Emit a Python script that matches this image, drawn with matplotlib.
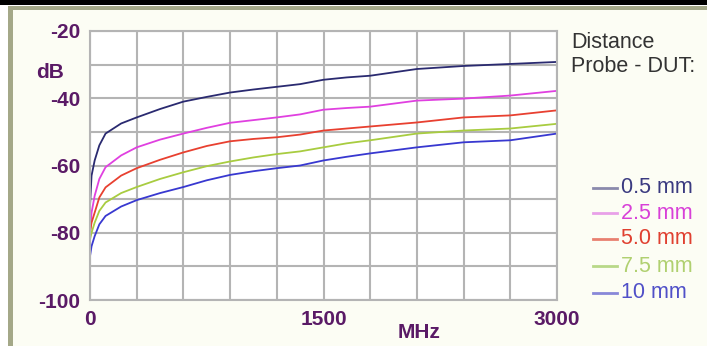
import matplotlib.pyplot as plt
from matplotlib.patches import Rectangle
import numpy as np

plt.rcParams['font.family'] = ['Liberation Sans', 'DejaVu Sans']

# frequency points (MHz) and measured coupling (dB)
freq = [0, 10, 30, 60, 100, 200, 300, 450, 600, 750, 900, 1050, 1200, 1350, 1500, 1650, 1800, 2100, 2400, 2700, 3000]
d05 = [-72, -63, -58.5, -54, -50.5, -47.5, -45.7, -43.2, -41, -39.6, -38.3, -37.4, -36.6, -35.8, -34.5, -33.8, -33.3, -31.3, -30.4, -29.8, -29.2]
d25 = [-80, -74, -69, -64, -60.5, -57, -54.6, -52.3, -50.5, -48.8, -47.3, -46.5, -45.7, -44.8, -43.4, -42.9, -42.5, -40.7, -40.1, -39.2, -37.8]
d50 = [-80, -77, -74, -69.5, -66.5, -63, -60.8, -58.3, -56.1, -54.2, -52.8, -52.1, -51.6, -50.8, -49.6, -49.0, -48.4, -47.2, -45.7, -45.1, -43.6]
d75 = [-82, -80, -77, -73.5, -71, -68.2, -66.4, -64, -62, -60.2, -58.8, -57.6, -56.6, -55.8, -54.6, -53.4, -52.5, -50.5, -49.6, -49, -47.6]
d10 = [-87, -84, -81, -77.5, -75, -72.2, -70.3, -68.2, -66.4, -64.4, -62.8, -61.7, -60.8, -60.0, -58.5, -57.4, -56.4, -54.6, -53.1, -52.5, -50.5]

labels = ['0.5 mm', '2.5 mm', '5.0 mm', '7.5 mm', '10 mm']
line_colors = ['#2a2a70', '#e040e0', '#e84030', '#a8cc40', '#3838d0']
key_colors = ['#8a8aac', '#e8a0e8', '#e88070', '#b8d888', '#8888d8']
text_colors = ['#3a3a80', '#d840d8', '#e04030', '#b0d070', '#5050c8']

W, H = 707, 346
fig = plt.figure(figsize=(W / 100, H / 100), dpi=100)
fig.patch.set_facecolor('white')

def px(x, y):
    return x / W, 1 - y / H

# frame: black strip on top, olive border, cream panel
fig.patches.append(Rectangle(px(8, 346), 699 / W, 340 / H, transform=fig.transFigure,
                             facecolor='#a4a888', edgecolor='none', zorder=-3))
fig.patches.append(Rectangle(px(13, 346), 694 / W, 336 / H, transform=fig.transFigure,
                             facecolor='#fcfdf4', edgecolor='none', zorder=-2))
fig.patches.append(Rectangle(px(0, 5), 1, 5 / H, transform=fig.transFigure,
                             facecolor='black', edgecolor='none', zorder=-1))

ax = fig.add_axes([90 / W, 46 / H, 467 / W, 269 / H])
ax.set_facecolor('white')

for y, c in zip([d05, d25, d50, d75, d10], line_colors):
    ax.plot(freq, y, color=c, lw=1.3)

ax.set_xlim(0, 3000)
ax.set_ylim(-100, -20)
ax.set_xticks(np.arange(0, 3001, 300))
ax.set_xticklabels(['0', '', '', '', '', '1500', '', '', '', '', '3000'])
ax.set_yticks(np.arange(-100, -19, 10))
ax.set_yticklabels(['-100', '', '-80', '', '-60', '', '-40', '', '-20'])
ax.tick_params(length=0, labelsize=15, labelcolor='#5a1a66')
ax.tick_params(axis='y', pad=7)
ax.tick_params(axis='x', pad=7)
for t in ax.get_xticklabels() + ax.get_yticklabels():
    t.set_fontweight('bold')
ax.grid(True, color='#b4b4b4', lw=1.5)
for s in ax.spines.values():
    s.set_color('#b4b4b4')
    s.set_linewidth(1.5)

fig.text(*px(50, 72), 'dB', ha='center', va='center', fontsize=15,
         fontweight='bold', color='#5a1a66')
fig.text(*px(419, 332), 'MHz', ha='center', va='center', fontsize=15,
         fontweight='bold', color='#5a1a66')

fig.text(*px(571, 42), 'Distance', ha='left', va='center', fontsize=15.5, color='#333333')
fig.text(*px(571, 67), 'Probe - DUT:', ha='left', va='center', fontsize=15.5, color='#333333')

rows = [188, 213, 239, 266, 293]
for r, lab, kc, tc in zip(rows, labels, key_colors, text_colors):
    fig.lines.append(plt.Line2D([593 / W, 617 / W], [1 - r / H, 1 - r / H],
                                transform=fig.transFigure, color=kc, lw=2))
    fig.text(*px(621, r), lab, ha='left', va='center', fontsize=15.5, color=tc)

fig.savefig('out.png', dpi=100)
